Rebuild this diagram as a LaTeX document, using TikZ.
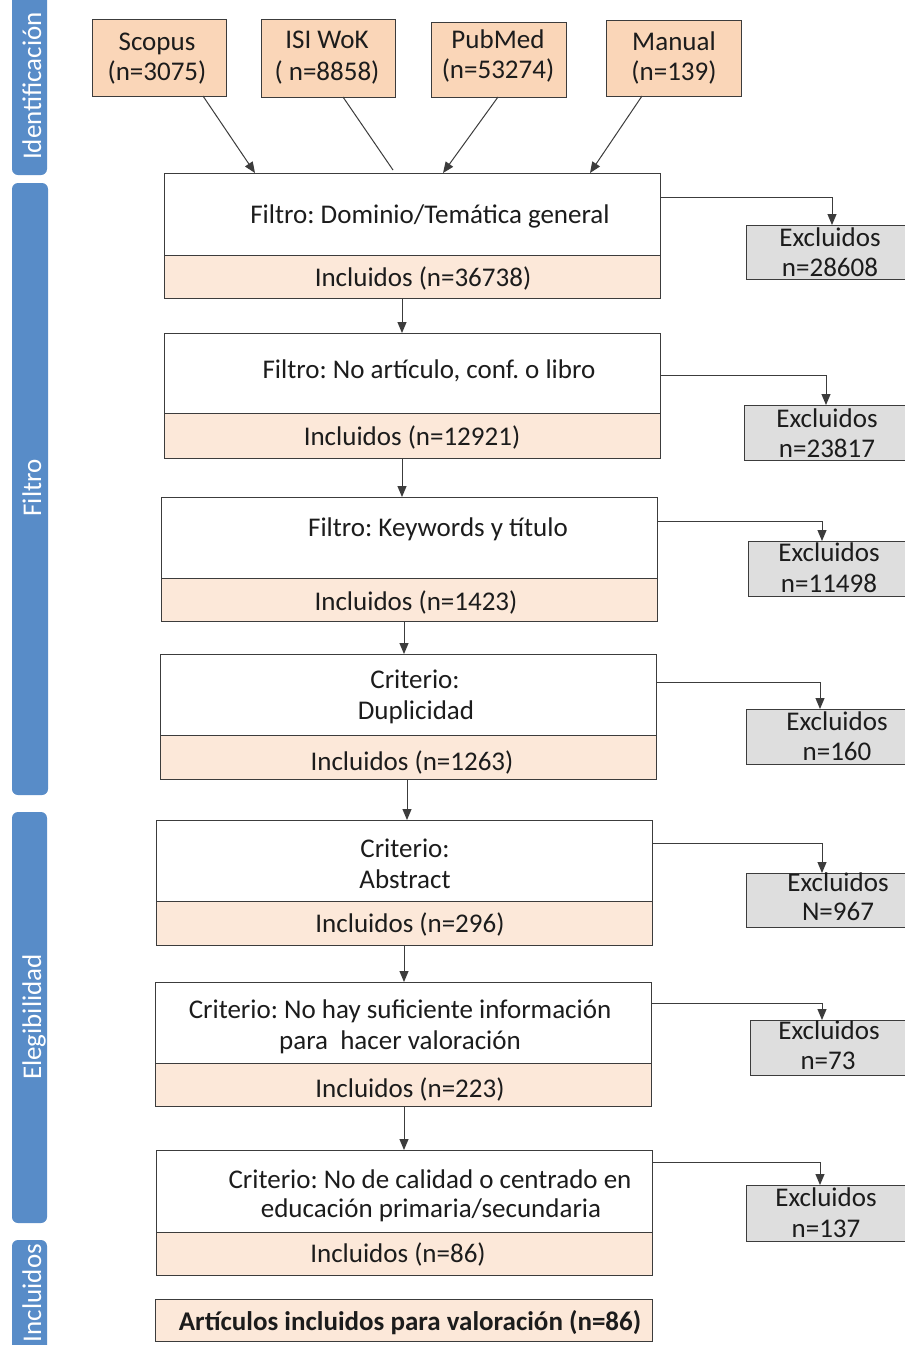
\documentclass[tikz,border=0pt]{standalone}
\usepackage{fontspec}
\setmainfont{Carlito}
\usetikzlibrary{arrows.meta}
\frenchspacing
\definecolor{barblue}{RGB}{88,140,200}
\definecolor{srcfill}{RGB}{250,214,184}
\definecolor{incfill}{RGB}{252,232,217}
\definecolor{excfill}{RGB}{222,222,222}
\definecolor{edgec}{RGB}{60,60,60}
\definecolor{txtc}{RGB}{28,28,28}
\newcommand{\rbox}[6]{\node[#2,minimum width={(#5-#3)*1pt},minimum height={(#6-#4)*1pt}] (#1) at ({(#3+#5)/2},{(#4+#6)/2}) {};}
\tikzset{
  boxbase/.style={draw=edgec, line width=1pt, rectangle, inner sep=0pt, outer sep=0pt},
  src/.style={boxbase, fill=srcfill},
  topbox/.style={boxbase, fill=white},
  incbox/.style={boxbase, fill=incfill},
  excbox/.style={boxbase, fill=excfill},
  barbox/.style={fill=barblue, rounded corners=6pt, rectangle, inner sep=0pt},
  lbl/.style={text=txtc, font=\fontsize{27}{32}\selectfont, inner sep=0pt, anchor=base},
  barlbl/.style={text=white, font=\fontsize{27}{32}\selectfont, inner sep=0pt, anchor=base, rotate=90},
  conn/.style={draw=edgec, line width=1pt},
  arr/.style={conn, -{Triangle[length=11pt,width=9pt]}}
}
\begin{document}
\begin{tikzpicture}[x=1pt,y=-1pt]
\useasboundingbox (0,0) rectangle (905,1345);
\clip (0,0) rectangle (905,1345);
\fill[white] (0,0) rectangle (905,1345);

% side bars
\rbox{barA}{barbox}{12}{-8}{47}{175}
\rbox{barB}{barbox}{12}{183}{48}{795}
\rbox{barC}{barbox}{12}{812}{47}{1223}
\rbox{barD}{barbox}{12}{1240}{47}{1365}
\node[barlbl] (barAt) at (41,86) {Identificación};
\node[barlbl] (barBt) at (41,488) {Filtro};
\node[barlbl] (barCt) at (41,1017) {Elegibilidad};
\node[barlbl] (barDt) at (41,1293) {Incluidos};

% sources
\rbox{s1}{src}{92}{19}{226}{96}
\rbox{s2}{src}{261}{19}{395}{97}
\rbox{s3}{src}{431}{22}{566}{97}
\rbox{s4}{src}{606}{20}{741}{96}
\node[lbl] (s1a) at (157,50) {Scopus};
\node[lbl] (s1b) at (157,80) {(n=3075)};
\node[lbl] (s2a) at (327,48) {ISI WoK};
\node[lbl] (s2b) at (327,80) {( n=8858)};
\node[lbl] (s3a) at (498,48) {PubMed};
\node[lbl] (s3b) at (498,78) {(n=53274)};
\node[lbl] (s4a) at (674,50) {Manual};
\node[lbl] (s4b) at (674,80) {(n=139)};

% filter boxes
\rbox{t1}{topbox}{164}{173}{660}{255}
\rbox{i1}{incbox}{164}{255}{660}{298}
\rbox{t2}{topbox}{164}{333}{660}{413}
\rbox{i2}{incbox}{164}{413}{660}{458}
\rbox{t3}{topbox}{161}{497}{657}{578}
\rbox{i3}{incbox}{161}{578}{657}{621}
\rbox{t4}{topbox}{160}{654}{656}{735}
\rbox{i4}{incbox}{160}{735}{656}{779}
\rbox{t5}{topbox}{156}{820}{652}{901}
\rbox{i5}{incbox}{156}{901}{652}{945}
\rbox{t6}{topbox}{155}{982}{651}{1063}
\rbox{i6}{incbox}{155}{1063}{651}{1106}
\rbox{t7}{topbox}{156}{1150}{652}{1232}
\rbox{i7}{incbox}{156}{1232}{652}{1275}
\rbox{fin}{incbox}{155}{1299}{652}{1341}

\node[lbl] (t1a) at (430,223) {Filtro: Dominio/Temática general};
\node[lbl] (i1a) at (423,286) {Incluidos (n=36738)};
\node[lbl] (t2a) at (429,378) {Filtro: No artículo, conf. o libro};
\node[lbl] (i2a) at (412,445) {Incluidos (n=12921)};
\node[lbl] (t3a) at (438,536) {Filtro: Keywords y título};
\node[lbl] (i3a) at (416,610) {Incluidos (n=1423)};
\node[lbl] (t4a) at (415,688) {Criterio:};
\node[lbl] (t4b) at (416,719) {Duplicidad};
\node[lbl] (i4a) at (412,770) {Incluidos (n=1263)};
\node[lbl] (t5a) at (405,857) {Criterio:};
\node[lbl] (t5b) at (405,888) {Abstract};
\node[lbl] (i5a) at (410,932) {Incluidos (n=296)};
\node[lbl] (t6a) at (400,1018) {Criterio: No hay suficiente información};
\node[lbl] (t6b) at (400,1049) {para\ \ hacer valoración};
\node[lbl] (i6a) at (410,1097) {Incluidos (n=223)};
\node[lbl] (t7a) at (430,1188) {Criterio: No de calidad o centrado en};
\node[lbl] (t7b) at (431,1217) {educación primaria/secundaria};
\node[lbl] (i7a) at (398,1262) {Incluidos (n=86)};
\node[lbl, font=\fontsize{27}{32}\selectfont\bfseries] (fina) at (410,1330) {Artículos incluidos para valoración (n=86)};

% excluded boxes
\rbox{e1}{excbox}{746}{225}{916}{279}
\rbox{e2}{excbox}{744}{405}{916}{460}
\rbox{e3}{excbox}{748}{541}{916}{596}
\rbox{e4}{excbox}{746}{709}{916}{764}
\rbox{e5}{excbox}{746}{873}{916}{927}
\rbox{e6}{excbox}{750}{1020}{916}{1075}
\rbox{e7}{excbox}{746}{1185}{916}{1241}
\node[lbl] (e1a) at (830,246) {Excluidos};
\node[lbl] (e1b) at (830,276) {n=28608};
\node[lbl] (e2a) at (827,427) {Excluidos};
\node[lbl] (e2b) at (827,457) {n=23817};
\node[lbl] (e3a) at (829,561) {Excluidos};
\node[lbl] (e3b) at (829,592) {n=11498};
\node[lbl] (e4a) at (837,730) {Excluidos};
\node[lbl] (e4b) at (837,760) {n=160};
\node[lbl] (e5a) at (838,891) {Excluidos};
\node[lbl] (e5b) at (838,920) {N=967};
\node[lbl] (e6a) at (829,1039) {Excluidos};
\node[lbl] (e6b) at (828,1069) {n=73};
\node[lbl] (e7a) at (826,1206) {Excluidos};
\node[lbl] (e7b) at (826,1237) {n=137};

% source connectors
\coordinate (isiend) at (393,170);
\draw[arr] (s1.south -| 203,0) -- (t1.north -| 255,0);
\draw[conn] (s2.south -| 343,0) -- (isiend);
\draw[arr] (s3.south -| 498,0) -- (t1.north -| 443,0);
\draw[arr] (s4.south -| 642,0) -- (t1.north -| 590,0);

% vertical flow
\draw[arr] (i1.south -| 402,0) -- (t2.north -| 402,0);
\draw[arr] (i2.south -| 402,0) -- (t3.north -| 402,0);
\draw[arr] (i3.south -| 404,0) -- (t4.north -| 404,0);
\draw[arr] (i4.south -| 407,0) -- (t5.north -| 407,0);
\draw[arr] (i5.south -| 404,0) -- (t6.north -| 404,0);
\draw[arr] (i6.south -| 404,0) -- (t7.north -| 404,0);

% exclusion connectors
\draw[arr] (t1.east |- 0,197) -| (e1.north -| 832,0);
\draw[arr] (t2.east |- 0,375) -| (e2.north -| 826,0);
\draw[arr] (t3.east |- 0,521) -| (e3.north -| 822,0);
\draw[arr] (t4.east |- 0,682) -| (e4.north -| 820,0);
\draw[arr] (t5.east |- 0,843) -| (e5.north -| 822,0);
\draw[arr] (t6.east |- 0,1003) -| (e6.north -| 822,0);
\draw[arr] (t7.east |- 0,1162) -| (e7.north -| 820,0);
\end{tikzpicture}
\end{document}
